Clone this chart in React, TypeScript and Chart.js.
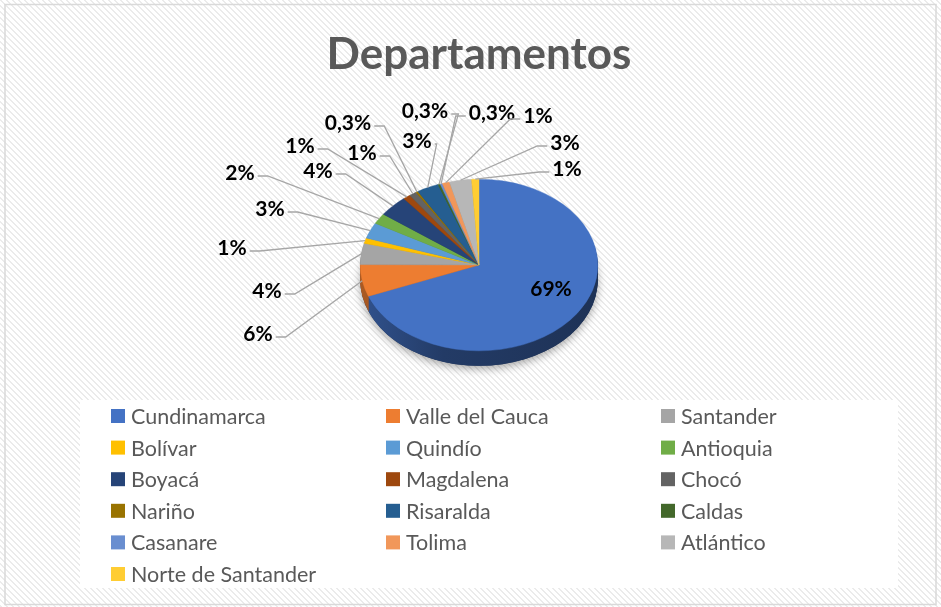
import React, { useEffect, useRef } from 'react';
import { Chart, registerables } from 'chart.js';

Chart.register(...registerables);

// ---------- data ----------
const categories = [
  'Cundinamarca', 'Valle del Cauca', 'Santander', 'Bolívar', 'Quindío', 'Antioquia',
  'Boyacá', 'Magdalena', 'Chocó', 'Nariño', 'Risaralda', 'Caldas',
  'Casanare', 'Tolima', 'Atlántico', 'Norte de Santander',
];
const values = [69, 6, 4, 1, 3, 2, 4, 1, 1, 0.3, 3, 0.3, 0.3, 1, 3, 1];
const colors = [
  '#4472C4', '#ED7D31', '#A5A5A5', '#FFC000', '#5B9BD5', '#70AD47',
  '#264478', '#9E480E', '#636363', '#997300', '#255E91', '#43682B',
  '#698ED0', '#F1975A', '#B7B7B7', '#FFCD33',
];
const titleText = 'Departamentos';

// ---------- layout ----------
const W = 941;
const H = 607;
const TILT = 86 / 119; // vertical squash of the 3D pie
const DEPTH = 15;
// label centres relative to the pie centre (px)
const labelOffsets: [number, number][] = [
  [72, 23], [-221, 68], [-212, 25], [-247, -18], [-209, -57], [-239, -93],
  [-161, -95], [-179, -120], [-117, -113], [-131, -143], [-62, -125], [-54, -155],
  [13, -153], [59, -150], [86, -123], [88, -97],
];

function shade(hex: string, f: number) {
  const n = parseInt(hex.slice(1), 16);
  const r = Math.round(((n >> 16) & 255) * f);
  const g = Math.round(((n >> 8) & 255) * f);
  const b = Math.round((n & 255) * f);
  return `rgb(${r},${g},${b})`;
}

function fmtPct(v: number, total: number) {
  const p = (v / total) * 100;
  if (p < 0.95) return p.toFixed(1).replace('.', ',') + '%';
  return Math.round(p) + '%';
}

function makePattern(ctx: CanvasRenderingContext2D) {
  const c = document.createElement('canvas');
  c.width = 6;
  c.height = 6;
  const g = c.getContext('2d')!;
  g.fillStyle = '#ffffff';
  g.fillRect(0, 0, 6, 6);
  g.fillStyle = '#ebebeb';
  for (let y = 0; y < 6; y++)
    for (let x = 0; x < 6; x++)
      if ((((x - y) % 6) + 6) % 6 < 2) g.fillRect(x, y, 1, 1);
  return ctx.createPattern(c, 'repeat')!;
}

const backgroundPlugin = {
  id: 'bgTitle',
  beforeDraw(chart: any) {
    const ctx: CanvasRenderingContext2D = chart.ctx;
    ctx.save();
    ctx.fillStyle = makePattern(ctx);
    ctx.fillRect(0, 0, W, H);
    ctx.strokeStyle = '#d9d9d9';
    ctx.lineWidth = 1.5;
    ctx.strokeRect(5, 4.5, 931, 600);
    ctx.fillStyle = '#ffffff';
    ctx.fillRect(80, 400, 818, 188);
    ctx.fillStyle = '#595959';
    ctx.font = 'bold 44px Lato';
    ctx.textAlign = 'center';
    ctx.textBaseline = 'alphabetic';
    ctx.fillText(titleText, 479, 69);
    ctx.restore();
  },
};

const pie3dPlugin = {
  id: 'pie3d',
  beforeDatasetsDraw(chart: any) {
    const ctx: CanvasRenderingContext2D = chart.ctx;
    const arcs = chart.getDatasetMeta(0).data;
    if (!arcs.length) return;
    const cx = arcs[0].x;
    const cy = arcs[0].y;
    const r = arcs[0].outerRadius;
    ctx.save();
    // shadow under the pie
    ctx.save();
    ctx.shadowColor = 'rgba(0,0,0,0.35)';
    ctx.shadowBlur = 8;
    ctx.shadowOffsetY = 3;
    ctx.fillStyle = shade(colors[0], 0.45);
    ctx.beginPath();
    ctx.ellipse(cx, cy + DEPTH, r, r * TILT, 0, 0, Math.PI * 2);
    ctx.fill();
    ctx.restore();
    const grads = arcs.map((_: any, i: number) => {
      const g = ctx.createLinearGradient(cx - r, 0, cx + r, 0);
      g.addColorStop(0, shade(colors[i], 0.72));
      g.addColorStop(0.35, shade(colors[i], 0.52));
      g.addColorStop(1, shade(colors[i], 0.44));
      return g;
    });
    for (let d = DEPTH; d >= 1; d--) {
      arcs.forEach((a: any, i: number) => {
        ctx.beginPath();
        ctx.save();
        ctx.translate(cx, cy + d);
        ctx.scale(1, TILT);
        ctx.moveTo(0, 0);
        ctx.arc(0, 0, r, a.startAngle, a.endAngle);
        ctx.closePath();
        ctx.restore();
        ctx.fillStyle = grads[i];
        ctx.fill();
      });
    }
    ctx.restore();
    // squash the top face
    ctx.save();
    ctx.translate(cx, cy);
    ctx.scale(1, TILT);
    ctx.translate(-cx, -cy);
  },
  afterDatasetsDraw(chart: any) {
    chart.ctx.restore();
  },
  afterDraw(chart: any) {
    const ctx: CanvasRenderingContext2D = chart.ctx;
    const arcs = chart.getDatasetMeta(0).data;
    if (!arcs.length) return;
    const cx = arcs[0].x;
    const cy = arcs[0].y;
    const r = arcs[0].outerRadius;
    const total = values.reduce((s, v) => s + v, 0);
    ctx.save();
    // data labels with leader lines
    ctx.font = 'bold 21px Lato';
    ctx.textAlign = 'center';
    ctx.textBaseline = 'alphabetic';
    arcs.forEach((a: any, i: number) => {
      const [dx, dy] = labelOffsets[i];
      const lx = cx + dx;
      const ly = cy + dy;
      const text = fmtPct(values[i], total);
      const inside = (dx / r) ** 2 + (dy / (r * TILT)) ** 2 < 1;
      if (!inside) {
        const mid = (a.startAngle + a.endAngle) / 2;
        const axp = cx + r * Math.cos(mid);
        const ayp = cy + r * TILT * Math.sin(mid);
        const w = ctx.measureText(text).width + 6;
        const dir = axp > lx ? 1 : -1;
        const sx = lx + (dir * w) / 2;
        const sy = ly + 4;
        const elbow = Math.min(10, Math.max(0, Math.abs(axp - sx) - 5));
        ctx.strokeStyle = '#a6a6a6';
        ctx.lineWidth = 1.3;
        ctx.beginPath();
        ctx.moveTo(sx, sy);
        ctx.lineTo(sx + dir * elbow, sy);
        ctx.lineTo(axp, ayp);
        ctx.stroke();
      }
      ctx.fillStyle = '#000000';
      ctx.fillText(text, lx, ly + 7.5);
    });
    // legend (3 columns)
    ctx.font = '21.5px Lato';
    ctx.textAlign = 'left';
    ctx.textBaseline = 'middle';
    categories.forEach((name, i) => {
      const col = i % 3;
      const row = Math.floor(i / 3);
      const bx = 111 + col * 275;
      const by = 416 + row * 31.6;
      ctx.fillStyle = colors[i];
      ctx.fillRect(bx, by - 7, 14, 14);
      ctx.fillStyle = '#595959';
      ctx.fillText(name, bx + 20, by + 1);
    });
    ctx.restore();
  },
};

export default function App() {
  const ref = useRef<HTMLCanvasElement>(null);
  useEffect(() => {
    document.body.style.margin = '0';
    const chart = new Chart(ref.current!, {
      type: 'pie',
      data: {
        labels: categories,
        datasets: [
          {
            data: values,
            backgroundColor: colors,
            borderColor: colors,
            borderWidth: 0.5,
          },
        ],
      },
      options: {
        responsive: false,
        animation: false,
        events: [],
        layout: { padding: { left: 360, right: 343, top: 146, bottom: 223 } },
        plugins: {
          legend: { display: false },
          title: { display: false },
          tooltip: { enabled: false },
        },
      },
      plugins: [backgroundPlugin, pie3dPlugin],
    } as any);
    return () => chart.destroy();
  }, []);
  return (
    <div style={{ width: W, height: H }}>
      <canvas ref={ref} width={W} height={H} style={{ display: 'block' }} />
    </div>
  );
}
